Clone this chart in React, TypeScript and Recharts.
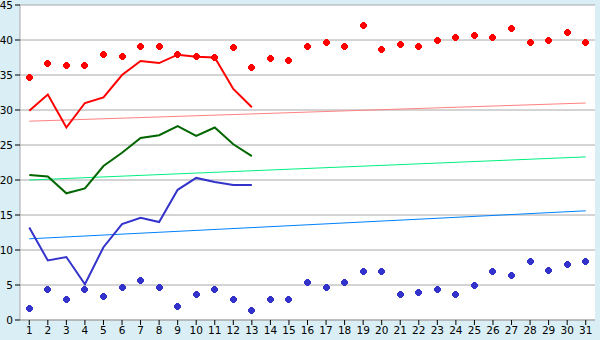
import { ComposedChart, Line, XAxis, YAxis, CartesianGrid } from 'recharts';

const days = ['1', '2', '3', '4', '5', '6', '7', '8', '9', '10', '11', '12', '13', '14', '15', '16',
  '17', '18', '19', '20', '21', '22', '23', '24', '25', '26', '27', '28', '29', '30', '31'];

const yTicks = [0, 5, 10, 15, 20, 25, 30, 35, 40, 45];

// red crosses (highs) and blue crosses (lows), one per day
const highPts = [34.7, 36.7, 36.3, 36.4, 37.9, 37.6, 39.0, 39.0, 37.9, 37.6, 37.5, 38.9, 36.1, 37.3, 37.1,
  39.1, 39.7, 39.0, 42.0, 38.6, 39.4, 39.0, 39.9, 40.4, 40.6, 40.3, 41.7, 39.7, 40.0, 41.1, 39.7];
const lowPts = [1.6, 4.4, 3.0, 4.4, 3.3, 4.6, 5.7, 4.7, 1.9, 3.7, 4.4, 3.0, 1.4, 2.9, 3.0,
  5.3, 4.7, 5.3, 7.0, 7.0, 3.6, 4.0, 4.4, 3.7, 5.0, 7.0, 6.4, 8.4, 7.1, 8.0, 8.4];

// the three lines only run through day 13
const redLine = [29.9, 32.2, 27.5, 31.0, 31.8, 35.0, 37.0, 36.7, 37.9, 37.6, 37.5, 33.0, 30.4];
const greenLine = [20.7, 20.5, 18.1, 18.8, 22.0, 23.9, 26.0, 26.4, 27.7, 26.3, 27.5, 25.1, 23.4];
const blueLine = [13.2, 8.5, 9.0, 5.1, 10.4, 13.7, 14.6, 14.0, 18.6, 20.3, 19.7, 19.3, 19.3];

// trend lines: value on day 1 and on day 31
const redTrend = [28.4, 31.0];
const greenTrend = [20.0, 23.3];
const blueTrend = [11.6, 15.6];

const last = days.length - 1;
const ends = (t: number[], i: number) => (i === 0 ? t[0] : i === last ? t[1] : null);

const data = days.map((d, i) => ({
  day: d,
  high: highPts[i],
  low: lowPts[i],
  red: i < redLine.length ? redLine[i] : null,
  green: i < greenLine.length ? greenLine[i] : null,
  blue: i < blueLine.length ? blueLine[i] : null,
  redT: ends(redTrend, i),
  greenT: ends(greenTrend, i),
  blueT: ends(blueTrend, i),
}));

const Cross = (color: string) => (props: any) => {
  const { cx, cy, index } = props;
  if (cx == null || cy == null) return <g key={index} />;
  const x = Math.floor(cx);
  const y = Math.floor(cy);
  return (
    <g key={index} fill={color} shapeRendering="crispEdges">
      <rect x={x - 1} y={y - 3} width={3} height={7} />
      <rect x={x - 3} y={y - 1} width={7} height={3} />
      <rect x={x - 2} y={y - 2} width={5} height={5} />
    </g>
  );
};

const tickStyle = { fontSize: 10.5, fill: '#000', fontFamily: 'DejaVu Sans' };

export default function App() {
  return (
    <div style={{ position: 'absolute', left: 0, top: 0, width: 600, height: 340, background: '#d9eef5' }}>
      <ComposedChart width={600} height={340} data={data} margin={{ top: 5, right: 5, left: 0, bottom: 0 }}>
        <CartesianGrid vertical={false} stroke="#a8a8a8" fill="#ffffff" fillOpacity={1} />
        <XAxis dataKey="day" scale="band" height={20} tickSize={5} tick={tickStyle} stroke="#a8a8a8"
          tickLine={{ stroke: '#000' }} interval={0} />
        <YAxis domain={[0, 45]} ticks={yTicks} width={20} tickSize={5} tick={tickStyle}
          stroke="#a8a8a8" tickLine={{ stroke: '#000' }} interval={0} />
        <YAxis yAxisId="r" orientation="right" domain={[0, 45]} width={0} tick={false}
          tickLine={false} stroke="#a8a8a8" />

        <Line dataKey="redT" stroke="#ff8080" strokeWidth={1} dot={false} activeDot={false}
          connectNulls isAnimationActive={false} />
        <Line dataKey="greenT" stroke="#00f080" strokeWidth={1} dot={false} activeDot={false}
          connectNulls isAnimationActive={false} />
        <Line dataKey="blueT" stroke="#0080ff" strokeWidth={1} dot={false} activeDot={false}
          connectNulls isAnimationActive={false} />

        <Line dataKey="red" stroke="#ff0000" strokeWidth={2} dot={false} activeDot={false}
          isAnimationActive={false} />
        <Line dataKey="green" stroke="#006600" strokeWidth={2} dot={false} activeDot={false}
          isAnimationActive={false} />
        <Line dataKey="blue" stroke="#3333cc" strokeWidth={2} dot={false} activeDot={false}
          isAnimationActive={false} />

        <Line dataKey="high" stroke="none" dot={Cross('#ff0000')} activeDot={false}
          isAnimationActive={false} />
        <Line dataKey="low" stroke="none" dot={Cross('#3333cc')} activeDot={false}
          isAnimationActive={false} />
      </ComposedChart>
    </div>
  );
}
